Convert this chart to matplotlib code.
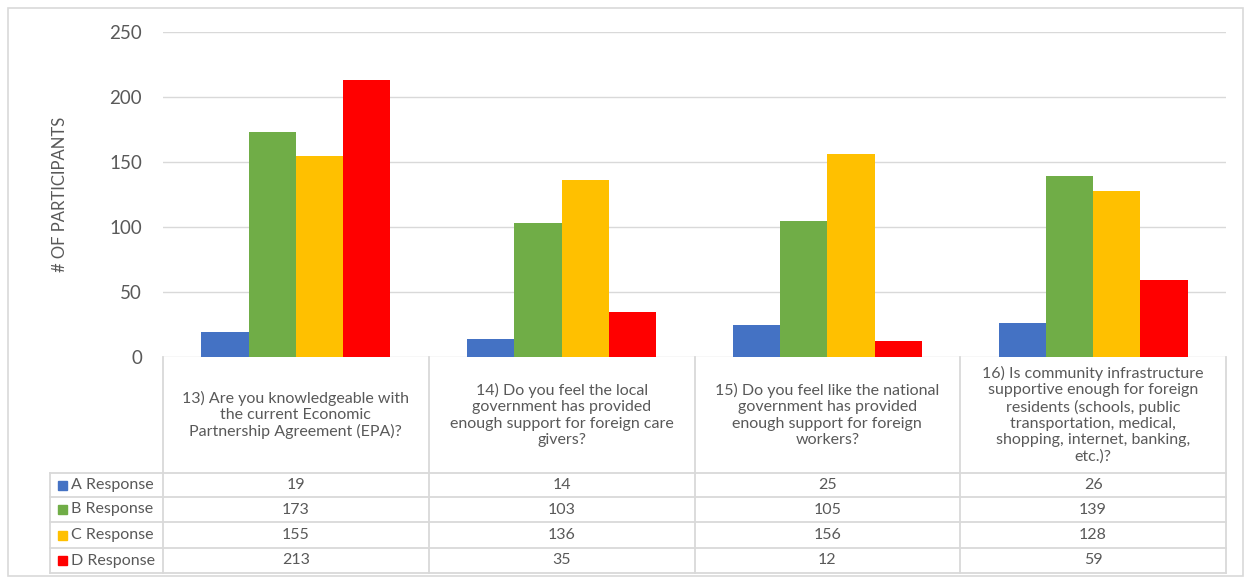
import matplotlib
matplotlib.use("Agg")
import matplotlib.pyplot as plt
from matplotlib.patches import Rectangle
from matplotlib.lines import Line2D
import numpy as np

plt.rcParams['font.family'] = ['Lato', 'DejaVu Sans']

categories = [
    "13) Are you knowledgeable with\nthe current Economic\nPartnership Agreement (EPA)?",
    "14) Do you feel the local\ngovernment has provided\nenough support for foreign care\ngivers?",
    "15) Do you feel like the national\ngovernment has provided\nenough support for foreign\nworkers?",
    "16) Is community infrastructure\nsupportive enough for foreign\nresidents (schools, public\ntransportation, medical,\nshopping, internet, banking,\netc.)?",
]
series_names = ["A Response", "B Response", "C Response", "D Response"]
a_resp = [19, 14, 25, 26]
b_resp = [173, 103, 105, 139]
c_resp = [155, 136, 156, 128]
d_resp = [213, 35, 12, 59]
series = [a_resp, b_resp, c_resp, d_resp]
colors = ["#4472C4", "#70AD47", "#FFC000", "#FF0000"]
yticks = [0, 50, 100, 150, 200, 250]
ylabel = "# OF PARTICIPANTS"

W, H = 1250, 580
fig = plt.figure(figsize=(W / 100, H / 100), dpi=100)
txt = "#595959"
grid = "#D9D9D9"

def fx(px):
    return px / W

def fy(py):
    return 1 - py / H

# outer border
fig.add_artist(Rectangle((fx(8), fy(576)), fx(1243) - fx(8), fy(8) - fy(576),
                         transform=fig.transFigure, fill=False, edgecolor=grid, lw=1.2))

# main plot area
left, right, top, bottom = 163, 1226, 32, 357
ax = fig.add_axes([fx(left), fy(bottom), fx(right) - fx(left), fy(top) - fy(bottom)])
n = len(categories)
x = np.arange(n)
bw = 0.178
for i, (vals, col) in enumerate(zip(series, colors)):
    ax.bar(x + (i - 1.5) * bw, vals, width=bw, color=col, zorder=3, label=series_names[i])
ax.set_xlim(-0.5, n - 0.5)
ax.set_ylim(0, 250)
ax.set_yticks(yticks)
ax.set_yticklabels([str(t) for t in yticks], fontsize=13.5, color=txt)
ax.tick_params(axis='y', length=0, pad=15)
ax.set_xticks([])
ax.grid(axis='y', color=grid, lw=1, zorder=0)
for s in ax.spines.values():
    s.set_visible(False)
ax.set_ylabel(ylabel, fontsize=12, color=txt, labelpad=30)

# data table
row_label_left = 50
col_w = (right - left) / n
header_bottom = 473
row_edges = [473, 497, 522, 548, 573]
lc = "#D9D9D9"

def hline(x0, x1, y):
    fig.add_artist(Line2D([fx(x0), fx(x1)], [fy(y), fy(y)], transform=fig.transFigure, color=lc, lw=1.3))

def vline(xp, y0, y1):
    fig.add_artist(Line2D([fx(xp), fx(xp)], [fy(y0), fy(y1)], transform=fig.transFigure, color=lc, lw=1.3))

for j in range(n + 1):
    vline(left + j * col_w, bottom, row_edges[-1])
vline(row_label_left, row_edges[0], row_edges[-1])
for y in row_edges:
    hline(row_label_left, right, y)

for j, cat in enumerate(categories):
    fig.text(fx(left + (j + 0.5) * col_w), fy((bottom + header_bottom) / 2), cat,
             ha='center', va='center', fontsize=11.5, color=txt, linespacing=1.2)

for i, (name, vals, col) in enumerate(zip(series_names, series, colors)):
    yc = (row_edges[i] + row_edges[i + 1]) / 2
    fig.add_artist(Rectangle((fx(58), fy(yc + 4.5)), fx(9) - fx(0), fy(0) - fy(9),
                             transform=fig.transFigure, color=col))
    fig.text(fx(71), fy(yc), name, ha='left', va='center', fontsize=11.5, color=txt)
    for j, v in enumerate(vals):
        fig.text(fx(left + (j + 0.5) * col_w), fy(yc), str(v), ha='center', va='center',
                 fontsize=11.5, color=txt)

fig.savefig("out.png", dpi=100)
